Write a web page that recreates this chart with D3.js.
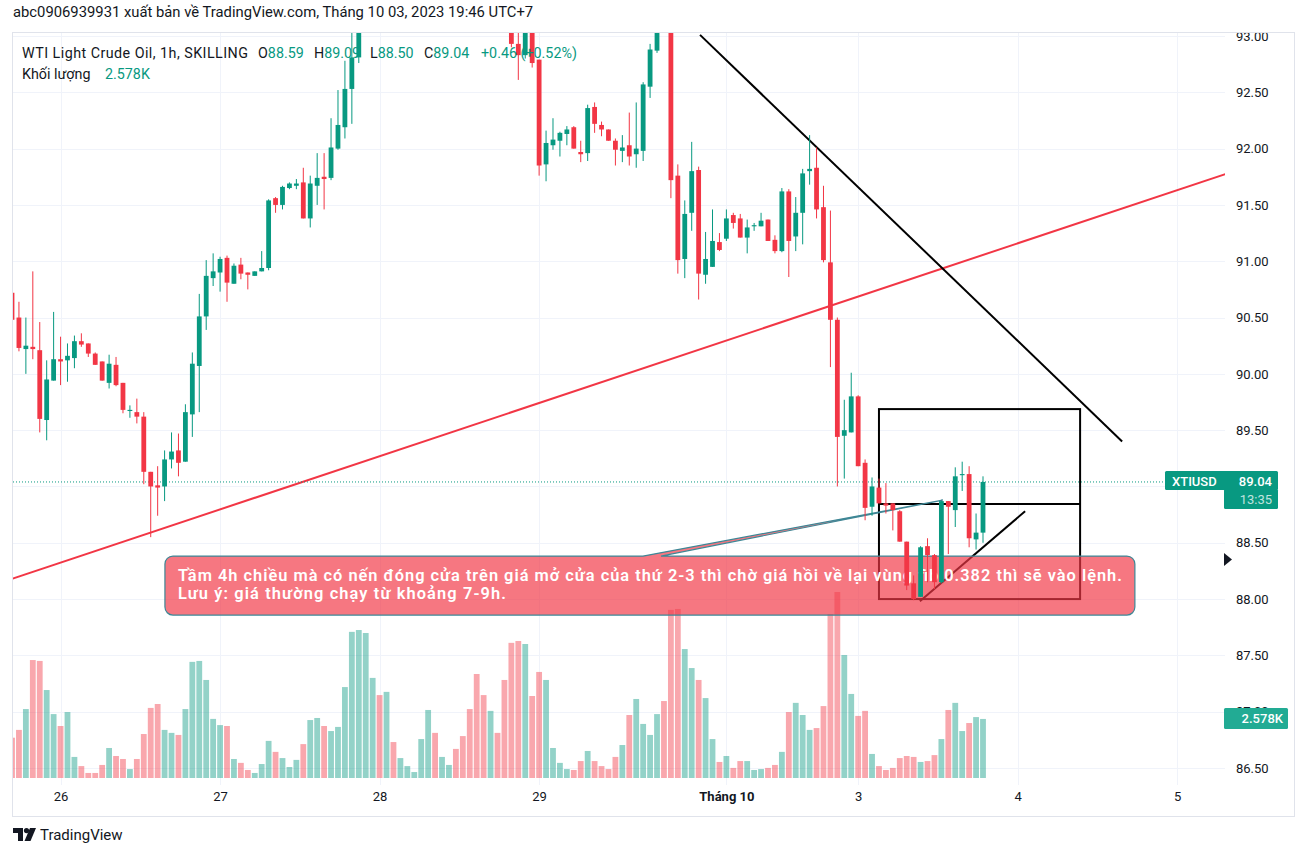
<!DOCTYPE html>
<html><head><meta charset="utf-8">
<script src="https://cdn.jsdelivr.net/npm/d3@7"></script>
<style>
body{margin:0;background:#fff;}
svg{display:block;font-family:Roboto,"Noto Sans",sans-serif;}
</style>
</head><body>
<svg id="c" width="1307" height="857"></svg>
<script>
// ---------- DATA (hourly candles, WTI / XTIUSD) ----------
const opens  = [90.72,90.50,90.22,90.24,90.21,89.59,89.94,90.13,90.12,90.14,90.29,90.27,90.18,90.11,89.92,90.08,89.92,89.67,89.66,89.62,89.13,89.01,89.00,89.24,89.32,89.22,89.64,90.07,90.51,90.85,90.90,91.03,90.80,90.97,90.90,90.87,90.91,90.94,91.56,91.50,91.65,91.67,91.70,91.38,91.67,91.75,91.74,92.00,92.19,92.53,92.81,93.15,93.38,93.72,93.55,93.82,93.70,93.80,93.88,93.92,94.05,94.30,94.15,94.22,94.26,94.15,94.00,93.75,93.40,93.20,93.38,93.20,93.12,92.93,92.83,93.08,92.79,91.86,92.03,92.07,92.13,92.19,91.97,91.96,92.37,92.21,92.17,92.07,91.98,92.03,91.95,91.98,92.55,92.87,93.12,93.08,91.76,91.02,91.43,91.81,90.88,90.95,91.17,91.20,91.41,91.38,91.21,91.31,91.31,91.37,91.19,91.09,91.62,91.22,91.43,91.80,91.83,91.48,90.99,90.48,89.45,89.48,89.80,89.21,88.82,88.99,88.85,88.85,88.78,88.51,88.14,88.02,88.47,88.39,88.15,88.87,88.79,89.10,89.11,88.53,88.59];
const highs  = [90.75,90.64,90.50,90.91,90.46,90.12,90.55,90.33,90.27,90.34,90.36,90.27,90.19,90.11,90.17,90.15,89.92,89.72,89.78,89.66,89.13,89.18,89.32,89.48,89.47,89.73,90.19,90.71,91.01,91.07,91.04,91.05,90.98,91.03,90.90,90.91,91.09,91.55,91.57,91.67,91.70,91.73,91.83,91.76,91.96,91.96,92.27,92.52,92.78,93.10,93.25,93.45,93.80,93.85,93.90,93.88,93.86,93.92,93.95,94.10,94.35,94.38,94.25,94.28,94.30,94.20,94.05,93.80,93.50,93.45,93.42,93.25,93.18,93.10,93.15,93.12,92.79,92.16,92.27,92.15,92.20,92.20,92.07,92.39,92.41,92.24,92.17,92.09,92.12,92.32,92.41,92.59,92.93,93.20,93.25,93.10,91.86,91.54,92.06,91.84,91.26,91.46,91.25,91.46,91.43,91.42,91.37,91.34,91.43,91.37,91.23,91.65,91.64,91.57,91.82,92.12,92.01,91.67,91.45,90.50,89.77,90.01,89.81,89.24,89.08,89.07,89.03,88.85,88.79,88.51,88.21,88.47,88.54,88.40,88.87,88.87,89.17,89.22,89.18,88.76,89.09];
const lows   = [90.46,90.20,90.00,90.13,89.48,89.41,89.94,89.90,89.93,90.05,90.24,90.15,90.08,89.94,89.87,89.89,89.65,89.61,89.56,89.02,88.55,88.74,88.87,89.16,89.09,89.22,89.44,89.66,90.39,90.78,90.73,90.64,90.80,90.84,90.75,90.87,90.91,90.92,91.43,91.46,91.64,91.64,91.38,91.30,91.50,91.46,91.72,91.99,92.09,92.22,92.76,93.08,93.30,93.45,93.50,93.66,93.65,93.76,93.85,93.88,94.00,94.10,94.10,94.18,94.12,93.95,93.70,93.30,93.10,93.12,93.15,93.06,92.90,92.61,92.80,92.72,91.76,91.71,91.99,91.93,92.03,92.00,91.88,91.89,92.14,92.11,92.07,91.85,91.88,91.85,91.83,91.89,92.45,92.85,93.06,91.56,90.89,90.85,91.27,90.66,90.80,90.95,91.09,91.18,91.29,91.21,91.07,91.27,91.31,91.18,91.07,91.08,90.86,91.09,91.15,91.68,91.38,90.99,90.06,89.00,89.07,89.48,89.18,88.70,88.74,88.85,88.76,88.61,88.51,88.08,87.99,88.02,88.15,88.09,88.14,88.40,88.64,88.96,88.46,88.44,88.50];
const closes = [90.48,90.23,90.25,90.22,89.60,89.95,90.13,90.11,90.16,90.29,90.26,90.18,90.08,89.94,90.09,89.90,89.68,89.68,89.62,89.13,89.00,88.99,89.24,89.31,89.21,89.66,90.09,90.51,90.87,90.91,91.02,90.81,90.96,90.89,90.88,90.91,90.94,91.54,91.50,91.66,91.69,91.69,91.38,91.69,91.74,91.73,92.01,92.21,92.53,92.81,93.15,93.38,93.72,93.55,93.82,93.70,93.80,93.88,93.92,94.05,94.30,94.15,94.22,94.26,94.15,94.00,93.75,93.40,93.20,93.38,93.20,93.12,92.93,92.83,93.08,92.76,91.85,92.05,92.08,92.14,92.17,92.00,91.95,92.36,92.22,92.17,92.07,91.99,92.01,91.93,92.00,92.57,92.88,93.12,93.08,91.72,91.01,91.42,91.80,90.89,91.02,91.18,91.10,91.38,91.34,91.21,91.30,91.32,91.36,91.18,91.09,91.62,91.18,91.43,91.78,91.82,91.46,91.01,90.48,89.44,89.50,89.80,89.18,88.81,89.00,88.85,88.83,88.79,88.51,88.12,88.00,88.46,88.39,88.15,88.87,88.82,89.09,89.11,88.54,88.59,89.04];
const volumesK = [1.76,2.10,3.01,5.15,5.11,3.84,2.79,2.27,2.88,0.92,0.52,0.22,0.22,0.57,1.31,0.96,0.83,0.39,0.83,1.92,3.06,3.23,2.10,1.97,1.88,3.01,5.07,5.11,4.28,2.58,2.31,2.27,0.83,0.66,0.35,0.22,0.61,1.62,1.14,0.87,0.48,0.79,1.48,2.53,2.62,2.27,2.05,2.23,3.97,6.38,6.46,6.33,4.37,3.62,3.76,1.57,0.87,0.52,0.26,1.70,2.97,1.97,0.92,0.57,1.27,1.83,3.01,4.54,3.62,2.93,1.97,4.28,5.90,5.98,5.85,3.58,4.63,4.28,1.31,0.66,0.39,0.35,0.74,1.18,0.74,0.52,0.39,0.92,1.44,2.75,3.45,2.36,1.88,2.79,3.36,7.34,7.38,5.63,4.80,4.28,3.49,1.70,0.70,0.96,0.44,0.74,0.74,0.35,0.39,0.44,0.57,1.14,2.88,3.28,2.75,2.10,2.18,3.14,7.16,8.12,5.37,3.67,2.71,2.93,1.05,0.52,0.35,0.44,0.87,0.96,0.92,0.70,0.74,1.00,1.70,2.97,3.28,2.05,2.40,2.66,2.578];

const priceTicks = [86.5,87,87.5,88,88.5,89,89.5,90,90.5,91,91.5,92,92.5,93];
const dayTickIdx = [7,30,53,76,103,122,145,168];
const dayTickLabels = ["26","27","28","29","Tháng 10","3","4","5"];
const lastPrice = 89.04;
const lastVolumeLabel = "2.578K";
const legendValues = [["O","88.59"],["H","89.09"],["L","88.50"],["C","89.04"],["","+0.46 (+0.52%)"]];

// drawings, in (candle index, price) space
const redTrend   = [[0,88.18],[175,91.775]];
const blackTrend = [[99.2,93.01],[160.06,89.40]];
const smallTrend = [[130.9,87.98],[146.07,88.78]];
const boxRange   = {i0:125.0,i1:154.0,pTop:89.687,pMid:88.844,pBot:88.0};
const callout    = {i0:22.05,i1:161.9,pTop:88.382,pBot:87.858,base0:90.98,base1:93.57,tipI:134.2,tipP:88.879};
const calloutLines = ["Tầm 4h chiều mà có nến đóng cửa trên giá mở cửa của thứ 2-3 thì chờ giá hồi về lại vùng fib 0.382 thì sẽ vào lệnh.",
                      "Lưu ý: giá thường chạy từ khoảng 7-9h."];

// ---------- SETUP ----------
const UP="#089981", DOWN="#f23645", TXT="#131722", GRID="#f0f3fa", BORDER="#e0e3eb";
const svg = d3.select("#c");
const PL=13, PR=1225, PT=33, PB=785;
const x = d3.scaleLinear().domain([0,140]).range([12,983]);
const y = d3.scaleLinear().domain([86.5,93]).range([768,36]);
const yv = d3.scaleLinear().domain([0,8.12]).range([778,592]);

const candles = opens.map((o,i)=>({i,o,h:highs[i],l:lows[i],c:closes[i],v:volumesK[i],up:closes[i]>=o}));

svg.append("rect").attr("width",1307).attr("height",857).attr("fill","#fff");
const defs = svg.append("defs");
defs.append("clipPath").attr("id","plotClip").append("rect").attr("x",PL).attr("y",PT).attr("width",PR-PL).attr("height",PB-PT);
defs.append("clipPath").attr("id","axisClip").append("rect").attr("x",PR).attr("y",PT).attr("width",70).attr("height",PB-PT);

// header
svg.append("text").attr("x",13).attr("y",17).attr("font-size",14.8).attr("fill",TXT)
  .text("abc0906939931 xuất bản về TradingView.com, Tháng 10 03, 2023 19:46 UTC+7");

// frame
svg.append("rect").attr("x",12.5).attr("y",32.5).attr("width",1282).attr("height",784).attr("fill","none").attr("stroke",BORDER);

const plot = svg.append("g").attr("clip-path","url(#plotClip)");

// grid
plot.selectAll(".hg").data(priceTicks).join("line")
  .attr("x1",PL).attr("x2",PR).attr("y1",d=>Math.round(y(d))+0.5).attr("y2",d=>Math.round(y(d))+0.5)
  .attr("stroke",GRID).attr("stroke-width",1);
plot.selectAll(".vg").data(dayTickIdx).join("line")
  .attr("x1",d=>Math.round(x(d))+0.5).attr("x2",d=>Math.round(x(d))+0.5).attr("y1",PT).attr("y2",PB)
  .attr("stroke",GRID).attr("stroke-width",1);

// volume
plot.selectAll(".vol").data(candles).join("rect")
  .attr("x",d=>x(d.i)-2.9).attr("width",5.8)
  .attr("y",d=>yv(d.v)).attr("height",d=>yv(0)-yv(d.v))
  .attr("fill",d=>d.up?"rgba(8,153,129,0.44)":"rgba(242,54,69,0.44)");

// legend (drawn under the candles, as in the reference)
const LF = 14.3;
const leg = svg.append("text").attr("y",58).attr("font-size",LF).attr("fill",TXT);
leg.append("tspan").attr("x",22).attr("textLength",226).attr("lengthAdjust","spacing").text("WTI Light Crude Oil, 1h, SKILLING");
const legX = [258,314,370,424,481];
legendValues.forEach(([k,v],j)=>{
  if (k) {
    leg.append("tspan").attr("x",legX[j]).text(k);
    leg.append("tspan").attr("fill",UP).text(v);
  } else {
    leg.append("tspan").attr("x",legX[j]).attr("fill",UP).text(v);
  }
});
const leg2 = svg.append("text").attr("y",79).attr("font-size",LF).attr("fill",TXT);
leg2.append("tspan").attr("x",22).text("Khối lượng");
leg2.append("tspan").attr("x",105).attr("fill",UP).text(lastVolumeLabel);

// drawings
const lineGen = d3.line().x(d=>x(d[0])).y(d=>y(d[1]));
plot.append("path").attr("d",lineGen(redTrend)).attr("stroke",DOWN).attr("stroke-width",2).attr("fill","none");
plot.append("path").attr("d",lineGen(blackTrend)).attr("stroke","#000").attr("stroke-width",2).attr("fill","none");
plot.append("rect").attr("x",x(boxRange.i0)).attr("y",y(boxRange.pTop))
  .attr("width",x(boxRange.i1)-x(boxRange.i0)).attr("height",y(boxRange.pBot)-y(boxRange.pTop))
  .attr("fill","none").attr("stroke","#000").attr("stroke-width",2);
plot.append("line").attr("x1",x(boxRange.i0)).attr("x2",x(boxRange.i1)).attr("y1",y(boxRange.pMid)).attr("y2",y(boxRange.pMid))
  .attr("stroke","#000").attr("stroke-width",2);
plot.append("path").attr("d",lineGen(smallTrend)).attr("stroke","#000").attr("stroke-width",2).attr("fill","none");

// last price dotted line
plot.append("line").attr("x1",PL).attr("x2",PR).attr("y1",y(lastPrice)).attr("y2",y(lastPrice))
  .attr("stroke",UP).attr("stroke-width",1).attr("stroke-dasharray","1,2");

// callout
{
  const L=x(callout.i0), R=x(callout.i1), T=y(callout.pTop), B=y(callout.pBot), r=8;
  const b0=x(callout.base0), b1=x(callout.base1), tx=x(callout.tipI), ty=y(callout.tipP);
  const p = d3.path();
  p.moveTo(L+r,T); p.lineTo(b0,T); p.lineTo(tx,ty); p.lineTo(b1,T); p.lineTo(R-r,T);
  p.arcTo(R,T,R,T+r,r); p.lineTo(R,B-r); p.arcTo(R,B,R-r,B,r); p.lineTo(L+r,B);
  p.arcTo(L,B,L,B-r,r); p.lineTo(L,T+r); p.arcTo(L,T,L+r,T,r); p.closePath();
  plot.append("path").attr("d",p.toString()).attr("fill","rgba(242,54,69,0.68)").attr("stroke","#3d8796").attr("stroke-width",1.2);
  const fs = 16.4;
  const targets = [944, 328];
  calloutLines.forEach((s,k)=>{
    const t = plot.append("text").attr("x",L+13).attr("y",T+25+k*18).attr("font-size",fs).attr("font-weight",600).attr("fill","#fff").text(s);
    const w = t.node().getComputedTextLength();
    if (w < targets[k]) t.attr("textLength",targets[k]).attr("lengthAdjust","spacing");
    else t.attr("font-size",fs*targets[k]/w);
  });
}

// candles
const cg = plot.append("g");
cg.selectAll(".wick").data(candles).join("rect")
  .attr("x",d=>x(d.i)-0.5).attr("width",1).attr("y",d=>y(d.h)).attr("height",d=>Math.max(1,y(d.l)-y(d.h)))
  .attr("fill",d=>d.up?UP:DOWN);
cg.selectAll(".body").data(candles).join("rect")
  .attr("x",d=>x(d.i)-2.4).attr("width",4.8)
  .attr("y",d=>y(Math.max(d.o,d.c))).attr("height",d=>Math.max(1,Math.abs(y(d.o)-y(d.c))))
  .attr("fill",d=>d.up?UP:DOWN);

// price axis (labels hidden by the last-price badge are skipped, like the reference)
const shownTicks = priceTicks.filter(t=>Math.abs(y(t)-y(lastPrice))>14);
const yaOuter = svg.append("g").attr("clip-path","url(#axisClip)");
const ya = yaOuter.append("g").attr("transform",`translate(${PR},0)`)
  .call(d3.axisRight(y).tickValues(shownTicks).tickFormat(d3.format(".2f")).tickSize(0).tickPadding(11));
ya.select(".domain").remove();
ya.selectAll("text").attr("font-size",13).attr("fill",TXT).attr("font-family","Roboto,sans-serif");

// time axis
const xa = svg.append("g").attr("transform",`translate(0,${PB})`)
  .call(d3.axisBottom(x).tickValues(dayTickIdx).tickFormat((d,k)=>dayTickLabels[k]).tickSize(0).tickPadding(7));
xa.select(".domain").remove();
xa.selectAll("text").attr("font-size",13).attr("fill",TXT).attr("font-family","Roboto,sans-serif")
  .attr("font-weight",(d,k)=>dayTickLabels[k]==="Tháng 10"?700:400);

// last price label
{
  const yy = y(lastPrice);
  svg.append("rect").attr("x",1165).attr("y",yy-11).attr("width",113).attr("height",19).attr("rx",1.5).attr("fill",UP);
  svg.append("rect").attr("x",1224).attr("y",yy+7).attr("width",54).attr("height",20).attr("rx",1.5).attr("fill",UP);
  svg.append("text").attr("x",1172).attr("y",yy+4).attr("font-size",13).attr("font-weight",500).attr("fill","#fff").text("XTIUSD");
  svg.append("text").attr("x",1272).attr("y",yy+4).attr("text-anchor","end").attr("font-size",13).attr("font-weight",500).attr("fill","#fff").text(d3.format(".2f")(lastPrice));
  svg.append("text").attr("x",1272).attr("y",yy+22).attr("text-anchor","end").attr("font-size",13).attr("fill","rgba(255,255,255,0.75)").text("13:35");
  const vy = yv(volumesK[volumesK.length-1]);
  svg.append("rect").attr("x",1224).attr("y",vy-11).attr("width",64).attr("height",21).attr("rx",1.5).attr("fill","#22ab94");
  svg.append("text").attr("x",1283).attr("y",vy+4.5).attr("text-anchor","end").attr("font-size",13).attr("font-weight",500).attr("fill","#fff").text(lastVolumeLabel);
  // drawing marker on the price axis
  svg.append("path").attr("d","M1224,553 L1232,559.5 L1224,566 Z").attr("fill",TXT);
}

// TradingView logo
{
  const g = svg.append("g").attr("transform","translate(13,828)");
  g.append("path").attr("d","M0,0 H10 V13 H5 V5 H0 Z").attr("fill",TXT);
  g.append("circle").attr("cx",13.5).attr("cy",2.6).attr("r",2.6).attr("fill",TXT);
  g.append("path").attr("d","M17,0 H23 L17.5,13 H11.5 Z").attr("fill",TXT);
  svg.append("text").attr("x",40).attr("y",840).attr("font-size",15).attr("fill",TXT).text("TradingView");
}
</script>
</body></html>
